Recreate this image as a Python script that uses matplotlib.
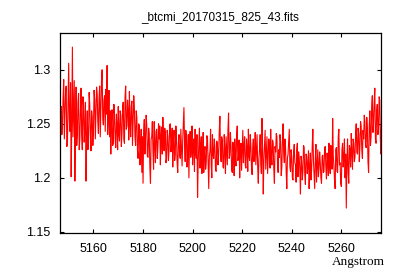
import numpy as np
import matplotlib
matplotlib.use("Agg")
import matplotlib.pyplot as plt

# wavelength grid of the spectrum (Angstrom)
wave_start = 5146.5
wave_step = 0.25

# flux values, 5 Angstrom per row
flux = [
    1.222, 1.248, 1.266, 1.240, 1.252, 1.275, 1.291, 1.236, 1.258, 1.280, 1.285, 1.229, 1.232, 1.272, 1.306, 1.255, 1.243, 1.288, 1.201, 1.250,
    1.321, 1.238, 1.262, 1.290, 1.197, 1.245, 1.284, 1.230, 1.241, 1.270, 1.278, 1.226, 1.236, 1.262, 1.283, 1.240, 1.226, 1.275, 1.266, 1.233,
    1.245, 1.270, 1.197, 1.238, 1.262, 1.226, 1.232, 1.279, 1.268, 1.241, 1.225, 1.262, 1.256, 1.230, 1.245, 1.281, 1.272, 1.236, 1.262, 1.284,
    1.278, 1.252, 1.241, 1.274, 1.285, 1.238, 1.262, 1.290, 1.300, 1.255, 1.249, 1.272, 1.276, 1.243, 1.282, 1.259, 1.304, 1.240, 1.256, 1.281,
    1.238, 1.262, 1.222, 1.250, 1.263, 1.230, 1.232, 1.268, 1.257, 1.236, 1.228, 1.259, 1.249, 1.226, 1.266, 1.240, 1.234, 1.262, 1.258, 1.229,
    1.241, 1.265, 1.270, 1.236, 1.232, 1.275, 1.285, 1.245, 1.248, 1.272, 1.262, 1.235, 1.280, 1.250, 1.238, 1.266, 1.271, 1.230, 1.252, 1.276,
    1.265, 1.238, 1.230, 1.262, 1.256, 1.226, 1.218, 1.250, 1.248, 1.212, 1.225, 1.245, 1.205, 1.238, 1.195, 1.242, 1.254, 1.222, 1.238, 1.258,
    1.249, 1.220, 1.219, 1.246, 1.241, 1.210, 1.195, 1.236, 1.238, 1.252, 1.226, 1.208, 1.252, 1.230, 1.214, 1.243, 1.245, 1.218, 1.228, 1.250,
    1.236, 1.248, 1.212, 1.240, 1.247, 1.222, 1.256, 1.234, 1.225, 1.246, 1.242, 1.214, 1.218, 1.244, 1.238, 1.216, 1.226, 1.249, 1.250, 1.224,
    1.231, 1.246, 1.210, 1.235, 1.244, 1.216, 1.222, 1.248, 1.236, 1.214, 1.205, 1.232, 1.240, 1.222, 1.218, 1.245, 1.228, 1.211, 1.234, 1.250,
    1.265, 1.232, 1.215, 1.244, 1.238, 1.210, 1.221, 1.240, 1.200, 1.232, 1.243, 1.219, 1.226, 1.248, 1.212, 1.230, 1.236, 1.206, 1.245, 1.224,
    1.218, 1.240, 1.182, 1.215, 1.232, 1.246, 1.209, 1.228, 1.238, 1.204, 1.221, 1.242, 1.205, 1.224, 1.229, 1.208, 1.214, 1.239, 1.236, 1.215,
    1.190, 1.220, 1.225, 1.245, 1.212, 1.200, 1.240, 1.222, 1.218, 1.236, 1.228, 1.207, 1.206, 1.234, 1.231, 1.212, 1.222, 1.243, 1.257, 1.226,
    1.215, 1.238, 1.234, 1.210, 1.209, 1.240, 1.226, 1.204, 1.238, 1.225, 1.212, 1.244, 1.260, 1.218, 1.221, 1.242, 1.229, 1.208, 1.205, 1.233,
    1.224, 1.202, 1.236, 1.218, 1.211, 1.239, 1.248, 1.216, 1.219, 1.235, 1.200, 1.226, 1.232, 1.207, 1.225, 1.244, 1.214, 1.230, 1.238, 1.212,
    1.209, 1.236, 1.228, 1.206, 1.245, 1.220, 1.216, 1.240, 1.231, 1.210, 1.203, 1.228, 1.236, 1.215, 1.222, 1.242, 1.212, 1.226, 1.240, 1.210,
    1.195, 1.218, 1.226, 1.240, 1.213, 1.204, 1.255, 1.225, 1.185, 1.216, 1.230, 1.244, 1.208, 1.222, 1.238, 1.204, 1.219, 1.236, 1.227, 1.209,
    1.245, 1.220, 1.212, 1.235, 1.232, 1.208, 1.195, 1.229, 1.224, 1.241, 1.238, 1.213, 1.205, 1.226, 1.219, 1.240, 1.233, 1.202, 1.210, 1.236,
    1.250, 1.222, 1.214, 1.236, 1.228, 1.205, 1.190, 1.218, 1.222, 1.234, 1.245, 1.210, 1.206, 1.226, 1.219, 1.200, 1.198, 1.224, 1.231, 1.214,
    1.212, 1.196, 1.226, 1.232, 1.201, 1.224, 1.219, 1.208, 1.185, 1.220, 1.215, 1.198, 1.206, 1.230, 1.228, 1.203, 1.194, 1.222, 1.220, 1.204,
    1.211, 1.225, 1.190, 1.210, 1.223, 1.198, 1.207, 1.229, 1.245, 1.216, 1.202, 1.190, 1.218, 1.231, 1.196, 1.212, 1.226, 1.201, 1.209, 1.224,
    1.214, 1.200, 1.195, 1.220, 1.221, 1.205, 1.206, 1.228, 1.229, 1.210, 1.199, 1.223, 1.216, 1.202, 1.232, 1.213, 1.204, 1.230, 1.222, 1.208,
    1.255, 1.220, 1.211, 1.198, 1.190, 1.226, 1.228, 1.206, 1.205, 1.238, 1.245, 1.212, 1.214, 1.195, 1.192, 1.226, 1.232, 1.210, 1.218, 1.236,
    1.200, 1.222, 1.172, 1.214, 1.236, 1.205, 1.195, 1.230, 1.226, 1.210, 1.241, 1.222, 1.208, 1.236, 1.232, 1.215, 1.219, 1.240, 1.250, 1.224,
    1.222, 1.246, 1.241, 1.215, 1.229, 1.252, 1.248, 1.226, 1.218, 1.244, 1.236, 1.258, 1.252, 1.230, 1.228, 1.256, 1.246, 1.215, 1.205, 1.248,
    1.262, 1.230, 1.238, 1.266, 1.276, 1.242, 1.251, 1.270, 1.283, 1.236, 1.232, 1.262, 1.268, 1.240, 1.245, 1.275, 1.272, 1.235, 1.222, 1.258,
]

x_ticks = [5160, 5180, 5200, 5220, 5240, 5260]
y_ticks = [1.15, 1.2, 1.25, 1.3]
y_tick_labels = ["1.15", "1.2", "1.25", "1.3"]

wave = wave_start + wave_step * np.arange(len(flux))

fig = plt.figure(figsize=(4, 2.8), dpi=100)
ax = fig.add_axes([0.15, 0.168, 0.8025, 0.714])

ax.plot(wave, flux, color="red", linewidth=0.8)

ax.set_xlim(5146.5, 5276)
ax.set_ylim(1.149, 1.334)
ax.set_xticks(x_ticks)
ax.set_yticks(y_ticks)
ax.set_yticklabels(y_tick_labels)
ax.tick_params(direction="in", length=3, width=0.8, top=True, right=True,
               labelsize=9, pad=7)
for lab in ax.get_xticklabels() + ax.get_yticklabels():
    lab.set_fontfamily("Liberation Sans")
for sp in ax.spines.values():
    sp.set_linewidth(0.9)

ax.set_title("_btcmi_20170315_825_43.fits", fontsize=8.5,
             fontfamily="Liberation Sans", pad=9)
ax.text(1.012, -0.145, "Angstrom", transform=ax.transAxes, ha="right",
        va="center", fontsize=9.5, fontfamily="Liberation Serif")

fig.savefig("out.png", dpi=100)
